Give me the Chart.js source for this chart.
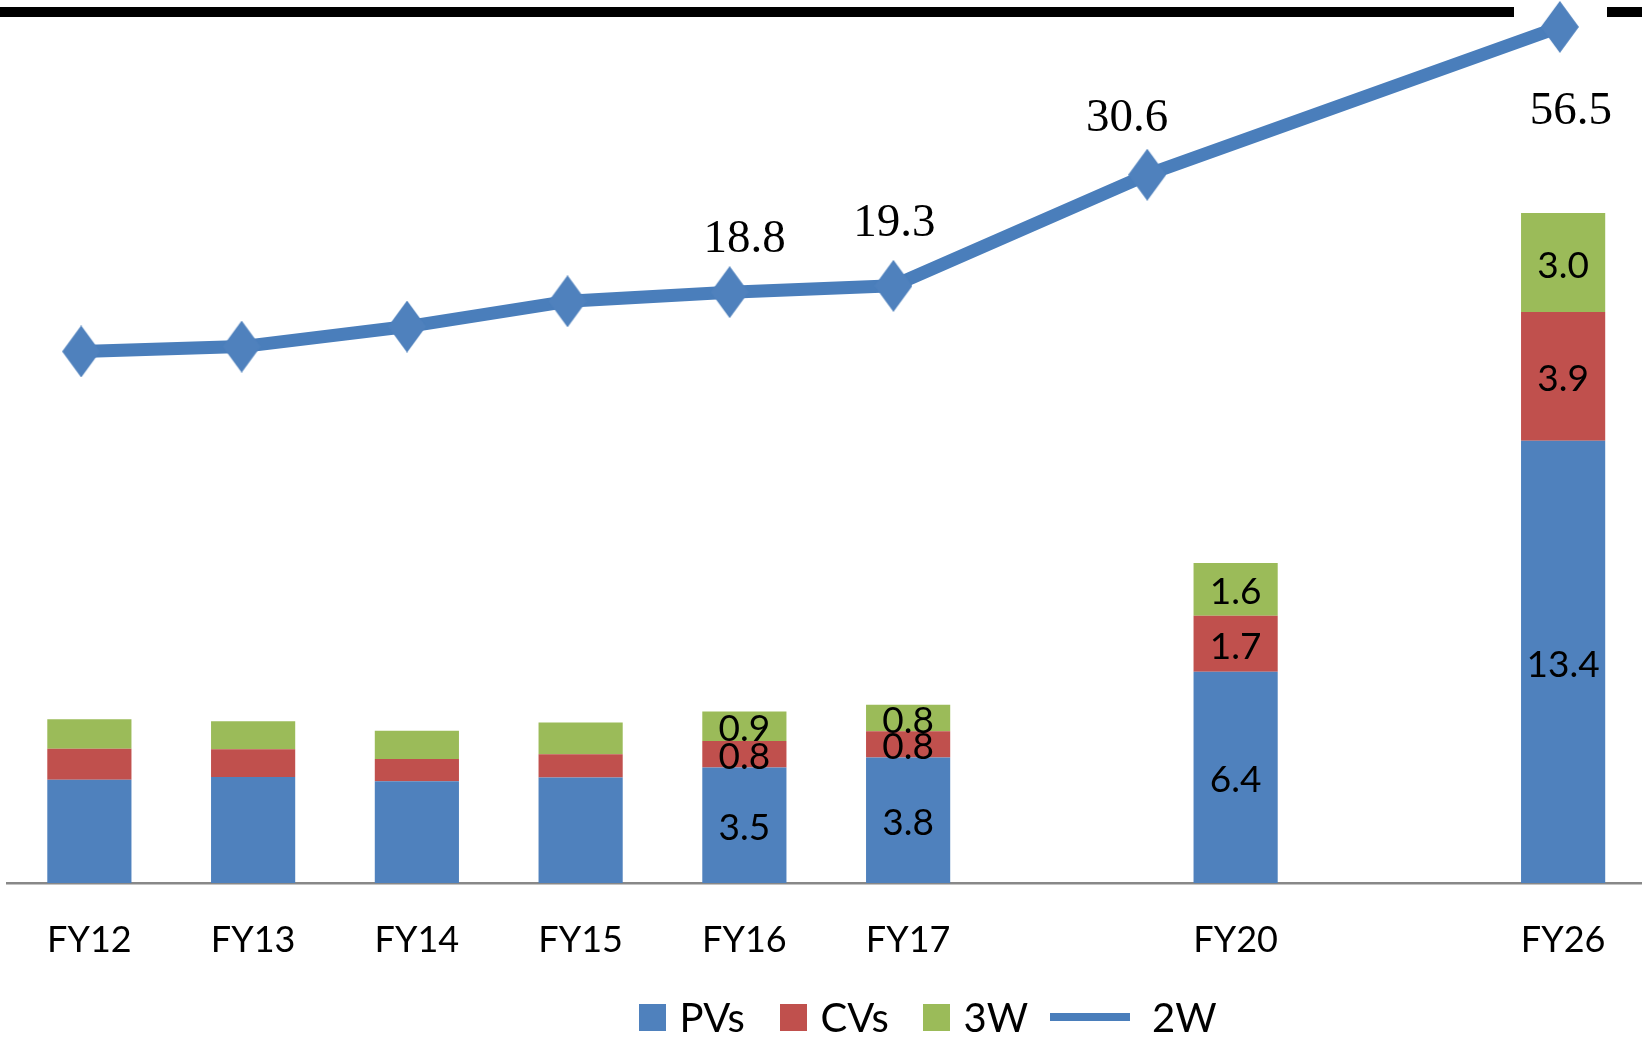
<!DOCTYPE html>
<html>
<head>
<meta charset="utf-8">
<script src="https://cdn.jsdelivr.net/npm/chart.js@4.4.1/dist/chart.umd.min.js"></script>
<style>
  html, body { margin: 0; padding: 0; background: #fff; overflow: hidden; width: 1642px; height: 1038px; }
  #wrap { position: absolute; left: 0; top: 0; width: 1652px; height: 1038px; }
  .topbar { position: absolute; background: #000; height: 10px; top: 7px; }
  .leg { position: absolute; top: 997px; height: 40px; display: flex; align-items: center;
         font-family: Lato, "Open Sans", sans-serif; font-size: 40px; line-height: 1; color: #000; white-space: nowrap; }
  .sq { width: 27px; height: 27px; margin-right: 13.5px; }
  .ln { width: 80px; height: 8px; margin-right: 22px; }
</style>
</head>
<body>
<div class="topbar" style="left:0;width:1514px"></div>
<div class="topbar" style="left:1607px;width:35px"></div>
<div id="wrap"><canvas id="c" width="1652" height="1038"></canvas></div>
<div id="legend"></div>
<script>
// ---- data ----
const categories = ['FY12', 'FY13', 'FY14', 'FY15', 'FY16', 'FY17', '', 'FY20', '', 'FY26'];
const pvs    = [3.13, 3.21, 3.08, 3.20, 3.5, 3.8, null, 6.4, null, 13.4];
const cvs    = [0.94, 0.84, 0.68, 0.70, 0.8, 0.8, null, 1.7, null, 3.9];
const threeW = [0.89, 0.85, 0.85, 0.96, 0.9, 0.8, null, 1.6, null, 3.0];
const labeledBars = [false, false, false, false, true, true, false, true, false, true];

const twoW        = [14.7, 15.0, 16.3, 18.1, 18.8, 19.3, 30.6, 56.5];
const twoWPos     = [-0.05, 0.93, 1.94, 2.92, 3.91, 4.91, 6.46, 8.98];
const twoWLabeled = [false, false, false, false, true, true, true, true];

const seriesNames = ['PVs', 'CVs', '3W', '2W'];
const colors = { pv: '#4F81BD', cv: '#C0504D', w3: '#9BBB59', line: '#4A7EBB', marker: '#4F81BD' };

// ---- diamond marker ----
function makeMarker(w, h, color) {
  const c = document.createElement('canvas');
  c.width = w; c.height = h;
  const g = c.getContext('2d');
  g.fillStyle = color;
  g.beginPath();
  g.moveTo(w / 2, 0);
  g.lineTo(w, h / 2);
  g.lineTo(w / 2, h);
  g.lineTo(0, h / 2);
  g.closePath();
  g.fill();
  return c;
}
const marker = makeMarker(38, 52, colors.marker);

// ---- label plugin ----
const valueLabels = {
  id: 'valueLabels',
  afterDatasetsDraw(chart, args, opts) {
    const ctx = chart.ctx;
    ctx.save();
    ctx.fillStyle = '#000';
    ctx.textAlign = 'center';
    ctx.textBaseline = 'middle';
    chart.data.datasets.forEach((ds, di) => {
      const meta = chart.getDatasetMeta(di);
      if (meta.hidden) return;
      if (ds.type === 'line') {
        ctx.font = opts.lineFont;
        meta.data.forEach((pt, i) => {
          if (!twoWLabeled[i]) return;
          const off = opts.lineOffsets[i] || [0, -50];
          ctx.fillText(twoW[i].toFixed(1), pt.x + off[0], pt.y + off[1]);
        });
      } else {
        ctx.font = opts.barFont;
        meta.data.forEach((bar, i) => {
          if (!labeledBars[i] || ds.data[i] == null) return;
          const p = bar.getProps(['x', 'y', 'base'], true);
          ctx.fillText(ds.data[i].toFixed(1), p.x, (p.y + p.base) / 2 + 3);
        });
      }
    });
    ctx.restore();
  }
};

const barCommon = { type: 'bar', order: 1, xAxisID: 'x', yAxisID: 'y', stack: 'total', grouped: false,
                    barPercentage: 0.514, categoryPercentage: 1.0, borderWidth: 0 };

function build() {
  const ctx = document.getElementById('c').getContext('2d');
  const chart = new Chart(ctx, {
    data: {
      labels: categories,
      datasets: [
        { type: 'line', label: seriesNames[3], data: twoW.map((v, i) => ({ x: twoWPos[i], y: v })),
          xAxisID: 'xLine', yAxisID: 'yLine', order: 0,
          borderColor: colors.line, backgroundColor: colors.line, borderWidth: 13, tension: 0,
          borderJoinStyle: 'round', pointStyle: marker, pointRadius: 20, pointHoverRadius: 20,
          pointBorderWidth: 0, clip: false },
        Object.assign({ label: seriesNames[0], data: pvs, backgroundColor: colors.pv }, barCommon),
        Object.assign({ label: seriesNames[1], data: cvs, backgroundColor: colors.cv }, barCommon),
        Object.assign({ label: seriesNames[2], data: threeW, backgroundColor: colors.w3 }, barCommon)
      ]
    },
    options: {
      responsive: false,
      animation: false,
      events: [],
      layout: { autoPadding: false, padding: { left: 7.5, right: 7, top: 25, bottom: 41 } },
      plugins: {
        legend: { display: false },
        tooltip: { enabled: false },
        valueLabels: {
          barFont: '37px Lato',
          lineFont: '47px "Liberation Serif"',
          lineOffsets: [null, null, null, null, [15, -52], [1, -62], [-20, -56], [11, 85]]
        }
      },
      scales: {
        x: {
          type: 'category', stacked: true, offset: true,
          grid: { display: false, drawTicks: false },
          border: { display: true, color: '#888888', width: 2.5 },
          ticks: { color: '#000', font: { family: 'Lato', size: 36 }, padding: 35.4, autoSkip: false, maxRotation: 0 }
        },
        xLine: { type: 'linear', display: false, min: -0.5, max: 9.5 },
        y: { type: 'linear', stacked: true, display: false, min: 0, max: 26 },
        yLine: { type: 'logarithmic', display: false, min: 1.6204, max: 56.95 }
      }
    },
    plugins: [valueLabels]
  });

  // HTML legend generated from the datasets
  const legend = document.getElementById('legend');
  const order = [1, 2, 3, 0];
  const lefts = [639, 780, 923, 1050];
  order.forEach((di, k) => {
    const ds = chart.data.datasets[di];
    const item = document.createElement('div');
    item.className = 'leg';
    item.style.left = lefts[k] + 'px';
    const mk = document.createElement('div');
    if (ds.type === 'line') { mk.className = 'ln'; mk.style.background = ds.borderColor; }
    else { mk.className = 'sq'; mk.style.background = ds.backgroundColor; }
    const tx = document.createElement('span');
    tx.textContent = ds.label;
    item.appendChild(mk);
    item.appendChild(tx);
    legend.appendChild(item);
  });
}

Promise.all([
  document.fonts.load('36px Lato'),
  document.fonts.load('47px "Liberation Serif"')
]).catch(() => {}).then(build);
</script>
</body>
</html>
